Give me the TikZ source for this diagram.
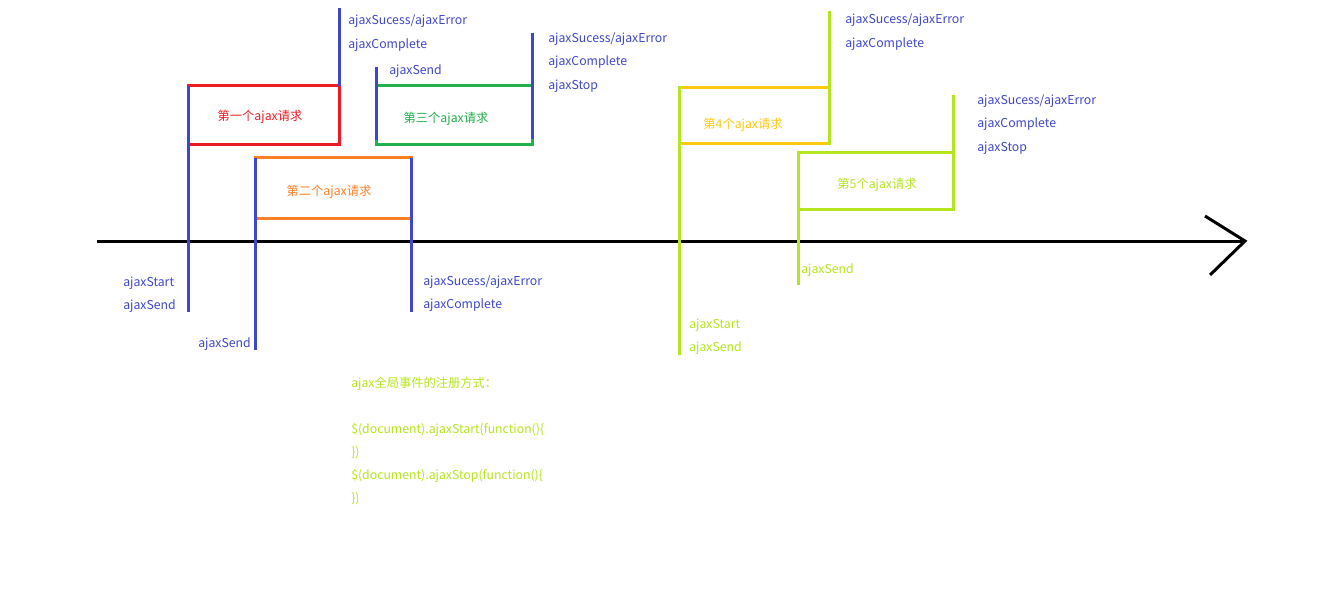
\documentclass[tikz,border=0pt]{standalone}
\usepackage{fontspec}
\setmainfont{Noto Sans CJK SC}
\definecolor{pblue}{HTML}{3F48CC}
\definecolor{pred}{HTML}{ED1C24}
\definecolor{porange}{HTML}{FF7F27}
\definecolor{pgreen}{HTML}{22B14C}
\definecolor{pyellow}{HTML}{FFC90E}
\definecolor{plime}{HTML}{B5E61D}
\tikzset{
  ln/.style={line width=2.25pt},
  bl/.style={ln, draw=pblue},
  lm/.style={ln, draw=plime},
  lbl/.style={anchor=west, inner sep=0pt, font=\fontsize{9.2}{11}\selectfont, text height=7pt, text depth=2pt, yshift=-1.5pt},
  bt/.style={lbl, text=pblue},
  lt/.style={lbl, text=plime},
  ttl/.style={anchor=center, inner sep=0pt, font=\fontsize{9.2}{11}\selectfont, text height=7pt, text depth=2pt, yshift=-1.5pt},
}
\begin{document}
\begin{tikzpicture}[x=0.75pt,y=-0.75pt]
\useasboundingbox[fill=white] (0,0) rectangle (1341,599);
% axis
\coordinate (a0) at (97,241);
\coordinate (a1) at (1245,241);
\coordinate (h1) at (1205,216);
\coordinate (h2) at (1210,275);
\draw[ln, black] (a0) -- (a1);
\draw[ln, black] (h1) -- (a1) -- (h2);
% boxes
\draw[ln, pred] (188,86) rectangle (339,145);
\draw[ln, porange] (255,158) rectangle (411,218);
\draw[ln, pgreen] (376,86) rectangle (532,145);
\draw[ln, pyellow] (679,88) rectangle (829,144);
\draw[ln, plime] (798,153) rectangle (953,209);
% box titles
\node[ttl, text=pred] (t1) at (260,115) {第一个ajax请求};
\node[ttl, text=porange] (t2) at (329,190) {第二个ajax请求};
\node[ttl, text=pgreen] (t3) at (446,117) {第三个ajax请求};
\node[ttl, text=pyellow] (t4) at (743,123) {第4个ajax请求};
\node[ttl, text=plime] (t5) at (877,183) {第5个ajax请求};
% blue markers
\coordinate (b1a) at (188,86);  \coordinate (b1b) at (188,312);
\coordinate (b2a) at (339,8);   \coordinate (b2b) at (339,86);
\coordinate (b3a) at (255,158); \coordinate (b3b) at (255,350);
\coordinate (b4a) at (411,158); \coordinate (b4b) at (411,312);
\coordinate (b5a) at (376,67);  \coordinate (b5b) at (376,140);
\coordinate (b6a) at (532,33);  \coordinate (b6b) at (532,139);
\draw[bl] (b1a) -- (b1b);
\draw[bl] (b2a) -- (b2b);
\draw[bl] (b3a) -- (b3b);
\draw[bl] (b4a) -- (b4b);
\draw[bl] (b5a) -- (b5b);
\draw[bl] (b6a) -- (b6b);
% lime markers
\coordinate (g1a) at (679,86);  \coordinate (g1b) at (679,355);
\coordinate (g2a) at (829,11);  \coordinate (g2b) at (829,145);
\coordinate (g3a) at (798,153); \coordinate (g3b) at (798,285);
\coordinate (g4a) at (953,95);  \coordinate (g4b) at (953,210);
\draw[lm] (g1a) -- (g1b);
\draw[lm] (g2a) -- (g2b);
\draw[lm] (g3a) -- (g3b);
\draw[lm] (g4a) -- (g4b);
% blue labels
\node[bt] (l1) at (348,19) {ajaxSucess/ajaxError};
\node[bt] (l2) at (348,43) {ajaxComplete};
\node[bt] (l3) at (123,281) {ajaxStart};
\node[bt] (l4) at (123,304) {ajaxSend};
\node[bt] (l5) at (198,342) {ajaxSend};
\node[bt] (l6) at (423,280) {ajaxSucess/ajaxError};
\node[bt] (l7) at (423,303) {ajaxComplete};
\node[bt] (l8) at (389,69) {ajaxSend};
\node[bt] (l9) at (548,37) {ajaxSucess/ajaxError};
\node[bt] (l10) at (548,60) {ajaxComplete};
\node[bt] (l11) at (548,84) {ajaxStop};
\node[bt] (l12) at (845,18) {ajaxSucess/ajaxError};
\node[bt] (l13) at (845,42) {ajaxComplete};
\node[bt] (l14) at (977,99) {ajaxSucess/ajaxError};
\node[bt] (l15) at (977,122) {ajaxComplete};
\node[bt] (l16) at (977,146) {ajaxStop};
% lime labels
\node[lt] (m1) at (689,323) {ajaxStart};
\node[lt] (m2) at (689,346) {ajaxSend};
\node[lt] (m3) at (801,268) {ajaxSend};
% code block
\node[lt] (c1) at (351,382) {ajax全局事件的注册方式：};
\node[lt] (c2) at (351,428) {\$(document).ajaxStart(function()\{};
\node[lt] (c3) at (351,451) {\})};
\node[lt] (c4) at (351,474) {\$(document).ajaxStop(function()\{};
\node[lt] (c5) at (351,497) {\})};
\end{tikzpicture}
\end{document}
